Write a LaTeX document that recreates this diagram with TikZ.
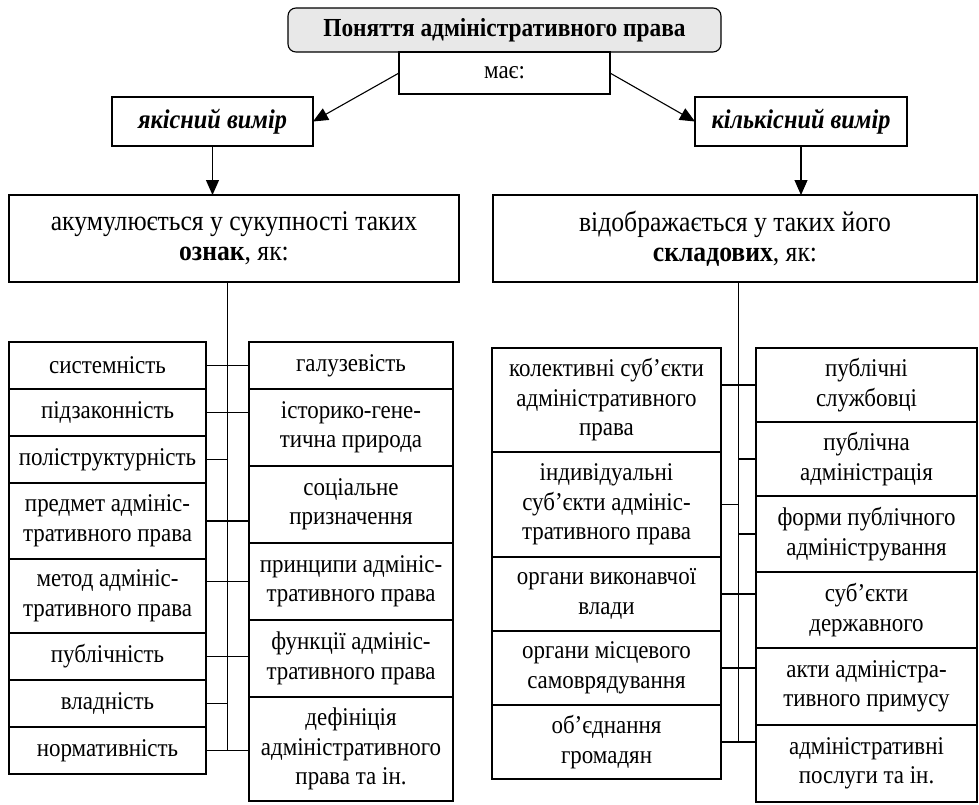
\documentclass[tikz,border=0pt]{standalone}
\usepackage{fontspec}
\setmainfont{Liberation Serif}[FakeStretch=0.9]
\usetikzlibrary{positioning,calc,arrows.meta}

\begin{document}
\begin{tikzpicture}[
    x=1pt, y=-1pt,
    line width=1.1pt,
    node distance=0pt,
    box/.style={draw, outer sep=0pt, inner sep=0pt, align=center},
    cell/.style={box, font=\fontsize{25.5}{29.5}\selectfont},
    dim/.style={box, minimum height=49pt, font=\fontsize{27}{30}\selectfont\bfseries\itshape},
    big/.style={box, minimum height=87pt, font=\fontsize{28.5}{30}\selectfont},
    one/.style={minimum height=47pt},
    two/.style={minimum height=77pt},
    three/.style={minimum height=104pt},
    arrow/.style={-{Triangle[length=15pt,width=13pt]}}
  ]
    \useasboundingbox (0,0) rectangle (979,804);

    \node[box, rounded corners=8pt, fill=black!9, minimum width=433pt, minimum height=44pt, font=\fontsize{26}{30}\selectfont\bfseries] (title) at (504.5,30) {Поняття адміністративного права};
    \node[box, below=of title, minimum width=211pt, minimum height=42pt, font=\fontsize{25.5}{30}\selectfont] (mae) {має:};
    \node[dim, minimum width=201pt] (yak) at (212.5,121.5) {якісний вимір};
    \node[dim, minimum width=212pt] (kil) at (801,121.5) {кількісний вимір};
    \node[big, minimum width=450pt] (lbig) at (234,238.5) {акумулюється у сукупності таких\\\textbf{ознак}, як:};
    \node[big, minimum width=484pt] (rbig) at (735,238.5) {відображається у таких його\\\textbf{складових}, як:};

    \node[cell, one, minimum width=197pt] (a1) at (107.5,365.5) {системність};
    \node[cell, one, minimum width=197pt, below=of a1] (a2) {підзаконність};
    \node[cell, one, minimum width=197pt, below=of a2] (a3) {поліструктурність};
    \node[cell, minimum height=76pt, minimum width=197pt, below=of a3] (a4) {предмет адмініс-\\тративного права};
    \node[cell, minimum height=74pt, minimum width=197pt, below=of a4] (a5) {метод адмініс-\\тративного права};
    \node[cell, one, minimum width=197pt, below=of a5] (a6) {публічність};
    \node[cell, one, minimum width=197pt, below=of a6] (a7) {владність};
    \node[cell, one, minimum width=197pt, below=of a7] (a8) {нормативність};

    \node[cell, one, minimum width=204pt] (b1) at (351,365.5) {галузевість};
    \node[cell, two, minimum width=204pt, below=of b1] (b2) {історико-гене-\\тична природа};
    \node[cell, two, minimum width=204pt, below=of b2] (b3) {соціальне\\призначення};
    \node[cell, two, minimum width=204pt, below=of b3] (b4) {принципи адмініс-\\тративного права};
    \node[cell, two, minimum width=204pt, below=of b4] (b5) {функції адмініс-\\тративного права};
    \node[cell, three, minimum width=204pt, below=of b5] (b6) {дефініція\\адміністративного\\права та ін.};

    \node[cell, three, minimum width=229pt] (c1) at (606.5,400) {колективні суб’єкти\\адміністративного\\права};
    \node[cell, minimum height=105pt, minimum width=229pt, below=of c1] (c2) {індивідуальні\\суб’єкти адмініс-\\тративного права};
    \node[cell, minimum height=74pt, minimum width=229pt, below=of c2] (c3) {органи виконавчої\\влади};
    \node[cell, minimum height=74pt, minimum width=229pt, below=of c3] (c4) {органи місцевого\\самоврядування};
    \node[cell, minimum height=74pt, minimum width=229pt, below=of c4] (c5) {об’єднання\\громадян};

    \node[cell, minimum height=74pt, minimum width=221pt] (d1) at (866.5,385) {публічні\\службовці};
    \node[cell, minimum height=74pt, minimum width=221pt, below=of d1] (d2) {публічна\\адміністрація};
    \node[cell, minimum height=76pt, minimum width=221pt, below=of d2] (d3) {форми публічного\\адміністрування};
    \node[cell, minimum height=76pt, minimum width=221pt, below=of d3] (d4) {суб’єкти\\державного};
    \node[cell, two, minimum width=221pt, below=of d4] (d5) {акти адміністра-\\тивного примусу};
    \node[cell, two, minimum width=221pt, below=of d5] (d6) {адміністративні\\послуги та ін.};

    \coordinate (lt) at ($(a1.east)!0.5!(b1.west)$);
    \coordinate (rt) at ($(c1.east)!0.5!(d1.west)$);

    \draw[arrow] (mae.west) -- (yak.east);
    \draw[arrow] (mae.east) -- (kil.west);
    \draw[arrow] (yak.south) -- (yak.south |- lbig.north);
    \draw[arrow] (kil.south) -- (kil.south |- rbig.north);

    \draw (lbig.south -| lt) -- (lt |- a8.east);
    \draw (a1.east) -- (b1.west |- a1.east);
    \draw (a2.east) -- (b2.west |- a2.east);
    \draw (a3.east) -- (lt |- a3.east);
    \draw (a4.east) -- (b3.west |- a4.east);
    \draw (a5.east |- b4.west) -- (b4.west);
    \draw (a6.east) -- (b5.west |- a6.east);
    \draw (a7.east) -- (lt |- a7.east);
    \draw (a8.east) -- (b6.west |- a8.east);

    \draw (rbig.south -| rt) -- (rt |- c5.east);
    \draw (c1.east |- d1.west) -- (d1.west);
    \draw (rt |- d2.west) -- (d2.west);
    \draw (c2.east) -- (rt |- c2.east);
    \draw (rt |- d3.west) -- (d3.west);
    \draw (c3.east) -- (d4.west |- c3.east);
    \draw (c4.east) -- (d5.west |- c4.east);
    \draw (c5.east) -- (d6.west |- c5.east);
  \end{tikzpicture}
\end{document}
